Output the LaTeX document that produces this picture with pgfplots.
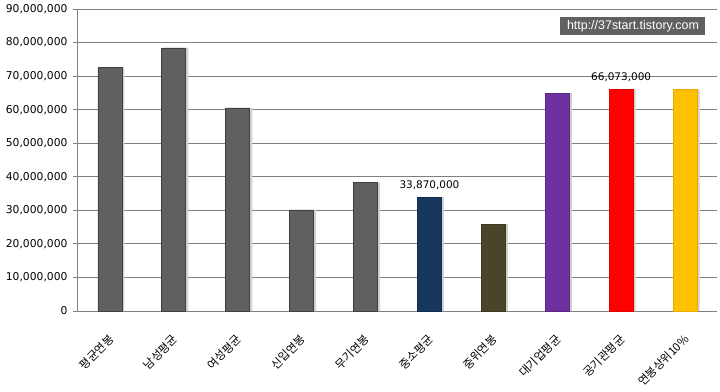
\documentclass[border=0pt]{standalone}
\usepackage{pgfplots}
\pgfplotsset{compat=1.18}
\usepackage{fontspec}
\setmainfont{DejaVu Sans}
\newfontfamily\kr{Noto Sans CJK KR}
\newfontfamily\lib{Liberation Sans}
\definecolor{barGray}{HTML}{606060}
\definecolor{barNavy}{HTML}{17375E}
\definecolor{barOlive}{HTML}{4A452A}
\definecolor{barPurple}{HTML}{7030A0}
\definecolor{barRed}{HTML}{FF0000}
\definecolor{barGold}{HTML}{FFC000}
\definecolor{gridGray}{HTML}{808080}
\begin{document}
\begin{tikzpicture}
\path[use as bounding box] (-78bp,-81bp) rectangle (642bp,311bp);
\begin{axis}[
  at={(0,0)}, anchor=south west,
  scale only axis,
  width=639bp, height=302bp,
  xmin=-0.5, xmax=9.5,
  ymin=0, ymax=90000000,
  axis x line=bottom, axis y line=left,
  axis line style={-, draw=gridGray, line width=1bp},
  ybar, bar width=24bp,
  xtick={0,...,9},
  xticklabels={평균연봉,남성평균,여성평균,신입연봉,무기연봉,중소평균,중위연봉,대기업평균,공기관평균,연봉상위10\%},
  x tick label style={font=\kr\fontsize{11.5}{13}\selectfont, xshift=4bp, yshift=-19bp, rotate=45, anchor=east},
  x tick style={draw=none},
  extra x ticks={-0.5,0.5,...,9.5},
  extra x tick labels={},
  extra x tick style={tick style={draw=gridGray, line width=1bp}, major tick length=4bp, tick align=outside, grid=none},
  ytick={0,10000000,...,90000000},
  scaled y ticks=false,
  /pgf/number format/fixed,
  /pgf/number format/1000 sep={,},
  /pgf/number format/precision=0,
  /pgf/number format/assume math mode=true,
  y tick label style={font=\fontsize{10.8}{13}\selectfont, xshift=-2bp},
  ytick style={draw=gridGray, line width=1bp},
  major tick length=5bp,
  tick align=outside,
  ymajorgrids,
  grid style={draw=gridGray, line width=1bp},
  clip=false,
]
% shadows
\addplot[fill=black!18, draw=none, bar shift=2.5bp] coordinates {(0,72500000) (1,78400000) (2,60500000) (3,30100000) (4,38200000) (5,33870000) (6,25900000) (7,64900000) (8,66073000) (9,66000000)};
\addplot[fill=barGray, draw=black!75, line width=0.8bp, bar shift=0pt] coordinates {(0,72500000) (1,78400000) (2,60500000) (3,30100000) (4,38200000)};
\addplot[fill=barNavy, draw=barNavy!80!black, line width=0.8bp, bar shift=0pt, nodes near coords={33,870,000}, every node near coord/.append style={font=\fontsize{10.5}{12}\selectfont, text=black, yshift=4bp}] coordinates {(5,33870000)};
\addplot[fill=barOlive, draw=barOlive!80!black, line width=0.8bp, bar shift=0pt] coordinates {(6,25900000)};
\addplot[fill=barPurple, draw=barPurple!80!black, line width=0.8bp, bar shift=0pt] coordinates {(7,64900000)};
\addplot[fill=barRed, draw=barRed!90!black, line width=0.8bp, bar shift=0pt, nodes near coords={66,073,000}, every node near coord/.append style={font=\fontsize{10.5}{12}\selectfont, text=black, yshift=4bp}] coordinates {(8,66073000)};
\addplot[fill=barGold, draw=barGold!90!black, line width=0.8bp, bar shift=0pt] coordinates {(9,66000000)};
\node[fill=barGray, text=white, font=\lib\fontsize{12.5}{14}\selectfont, minimum width=145bp, minimum height=18bp, inner sep=1bp] at (rel axis cs:0.8685,0.9437) {http://37start.tistory.com};
\end{axis}
\end{tikzpicture}
\end{document}
